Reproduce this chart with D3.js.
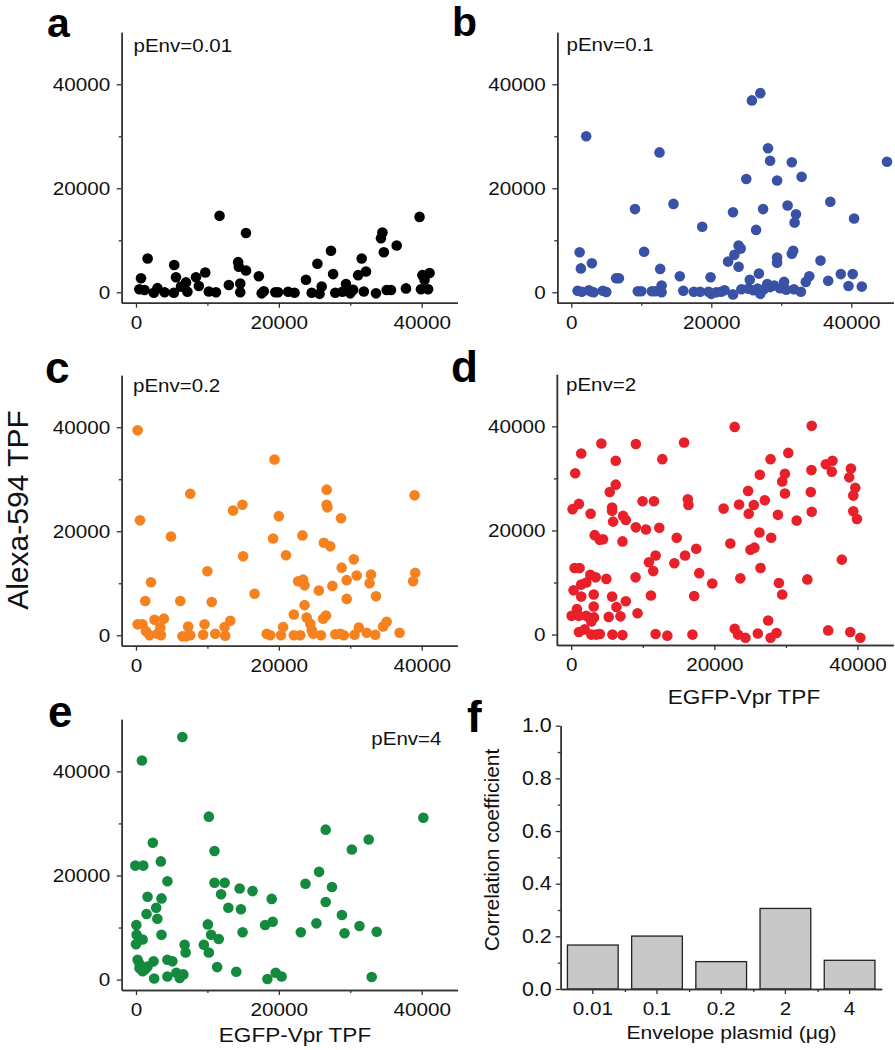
<!DOCTYPE html>
<html><head><meta charset="utf-8">
<script src="https://cdn.jsdelivr.net/npm/d3@7"></script>
<style>
body{margin:0;background:#fff;}
svg{display:block;font-family:"Liberation Sans",Arial,Helvetica,sans-serif;}
</style></head>
<body><div id="chart"></div>
<script>
// ---------------- DATA ----------------
const scatterTicks = [0, 20000, 40000];
const scatterMinorTicks = [10000, 30000];
const panelLabels = ["a","b","c","d","e","f"];
const envLabels = ["pEnv=0.01","pEnv=0.1","pEnv=0.2","pEnv=2","pEnv=4"];
const dotColors = ["#000000","#3a52a5","#f5821f","#e8202a","#138a3e"];

const dataA = [[700,2700],[1630,6500],[470,600],[1200,450],[2500,-100],[3000,800],[4000,0],[5300,-100],[5350,5250],[5600,2900],[6300,1100],[7000,1900],[7200,100],[8400,2900],[8800,1200],[9700,3800],[10200,150],[11200,0],[11700,14700],[13000,1400],[14300,5800],[14400,4900],[14600,1700],[14600,0],[15400,4200],[15400,11400],[17200,3100],[17900,200],[17600,-200],[19500,0],[19900,0],[21300,100],[22200,-100],[23800,2400],[24600,-100],[25400,5500],[25700,-300],[26000,1100],[27300,8000],[27600,3500],[27900,-100],[28900,100],[29400,1600],[30000,-200],[30400,500],[31600,6500],[31900,150],[31100,3300],[32200,4000],[33600,-200],[34300,10400],[34500,11500],[34700,7700],[35100,450],[35700,450],[36500,9000],[37800,750],[39700,14500],[39900,600],[40100,3300],[40400,2400],[40900,600],[41100,3700]];

const dataB = [[2130,30000],[1190,7700],[1370,4600],[2940,5600],[900,300],[1500,100],[2500,400],[2900,100],[3200,0],[4500,300],[5000,50],[6400,2700],[6800,2700],[9100,16000],[9500,200],[10000,200],[11500,200],[12000,200],[10400,7800],[12600,26900],[12700,4500],[12900,1300],[12900,0],[14600,17000],[15500,3100],[16000,300],[17500,100],[18400,100],[18700,12600],[19600,100],[19900,2900],[20000,-300],[20700,0],[21400,100],[21900,400],[23100,15400],[22400,5900],[23300,7200],[23900,9000],[24200,8400],[23900,4900],[23100,-400],[24300,600],[25000,21800],[25800,36900],[27000,38300],[26400,12000],[26800,3600],[25500,2400],[25300,700],[26000,400],[26600,700],[27000,-300],[27500,600],[28100,27700],[28400,25300],[27400,16000],[28000,1600],[28400,1000],[29000,1300],[29400,21500],[29400,6700],[29400,5700],[29800,800],[30400,2000],[30900,16700],[30700,500],[31500,25000],[31500,7400],[31700,8000],[31900,13400],[32100,15000],[31800,600],[32900,22200],[32800,100],[33500,2000],[34000,3100],[35600,6100],[36700,2200],[37000,17400],[38500,3500],[39600,1200],[40200,3500],[40400,14200],[41500,1100],[45100,25100]];

const dataC = [[230,39400],[560,22100],[4900,19000],[2100,10200],[1300,6600],[230,2100],[900,2100],[2600,3000],[3900,3200],[1400,800],[1900,0],[3000,300],[3500,0],[3400,1500],[6200,6600],[7600,27200],[7300,1700],[6500,-200],[7000,-200],[7600,0],[9600,2100],[9400,100],[10000,12300],[10600,6400],[11100,300],[12400,1600],[13200,2800],[12500,-100],[13600,24000],[14900,25100],[15000,15200],[16600,8000],[18300,300],[18800,0],[20300,0],[19400,33800],[19200,18600],[20000,22900],[20600,1600],[21000,15400],[22100,4000],[22100,0],[23000,0],[22700,10400],[23300,19200],[23400,10700],[23600,9600],[23600,5800],[23900,3400],[24400,2200],[24600,1000],[24800,300],[25600,8600],[26200,3200],[26600,3800],[25900,0],[26700,28000],[26700,25100],[26800,24600],[26300,17800],[27200,17100],[27500,9500],[27900,200],[28600,300],[29100,0],[28700,22500],[28800,13000],[29500,10600],[29500,7000],[30500,14600],[30900,11500],[30600,100],[31200,1500],[32300,500],[32900,11700],[32700,10000],[33600,7500],[33500,100],[34600,1700],[35100,2600],[36900,500],[39000,26900],[39100,12000],[38800,10400]];

const dataD = [[22840,39900],[33600,40100],[4210,36700],[9030,36600],[15770,36900],[1400,34800],[6220,33400],[12730,33700],[30330,34900],[27850,33700],[560,31000],[190,24100],[1080,25100],[2710,23200],[5380,27400],[6220,28800],[5710,24400],[5710,23800],[5850,21700],[7250,22800],[7630,22000],[7160,17900],[3280,19100],[3980,18200],[4450,18300],[9030,20600],[9970,25600],[11560,25600],[10440,20200],[12310,20500],[14740,18600],[11790,15200],[10860,13900],[11460,12200],[14410,13700],[15910,15200],[16290,26000],[16380,24900],[17460,16500],[17880,11800],[17180,7400],[19700,9800],[8990,11000],[11140,7500],[9270,4100],[7630,6400],[6320,5300],[6880,3500],[5240,3400],[5710,7300],[4910,10700],[3140,7700],[3140,5400],[2670,11500],[3420,11000],[2110,10000],[1400,9600],[470,12800],[1170,12800],[330,8500],[1400,7300],[800,4900],[50,3600],[1080,3600],[2110,3600],[3180,3300],[2810,2500],[1080,500],[1870,1000],[2810,0],[3500,0],[4000,100],[5760,0],[7160,-100],[11790,100],[13430,-200],[16940,0],[21290,24200],[22230,17500],[23450,25000],[24710,27600],[24800,23200],[25510,24900],[26350,30700],[27050,25800],[26300,19600],[25040,16300],[25600,16700],[27940,18600],[26440,12800],[23630,10800],[28880,23000],[29860,30900],[29480,29400],[29860,27100],[31500,21900],[29020,9900],[29480,7700],[32990,10600],[27520,2700],[33560,31600],[33470,27400],[33600,23600],[35570,32700],[36500,33400],[36410,31300],[39080,31900],[38840,30200],[39690,28200],[39410,26700],[39410,23700],[39920,22200],[37810,14400],[22840,1100],[23310,0],[24340,-600],[26070,200],[27850,-600],[28690,300],[35900,800],[38980,500],[40390,-600]];

const dataE = [[6490,46600],[830,42100],[10200,31300],[40230,31100],[26560,28800],[32580,26900],[30220,25000],[10990,24700],[2360,26300],[3480,22700],[-90,21900],[1020,21900],[4400,18900],[25630,20700],[23730,18400],[27440,17800],[10990,18600],[12420,18600],[14510,17500],[16320,17000],[11910,16400],[19000,15500],[26560,14900],[1620,15900],[3570,15600],[2830,13800],[1480,12600],[2990,11700],[12930,13800],[14690,13500],[28830,12400],[50,10500],[10060,10600],[18080,10500],[19140,11100],[25260,10800],[31290,10300],[23080,9100],[29200,8900],[33700,9200],[14920,9100],[3570,8600],[90,8600],[460,7800],[930,7700],[0,6800],[10520,8600],[11590,7800],[9500,6700],[6810,6700],[6950,5200],[10200,5200],[230,3800],[500,3000],[2460,3500],[1620,2500],[930,1600],[1300,2000],[500,2200],[4400,3800],[5100,3500],[11360,2400],[14040,1500],[2550,200],[4400,600],[5650,1300],[6120,300],[6630,1000],[18400,100],[19560,1300],[20390,600],[33000,500]];

const scatterSets = [dataA, dataB, dataC, dataD, dataE];

const barCategories = ["0.01","0.1","0.2","2","4"];
const barValues = [0.167, 0.201, 0.104, 0.306, 0.109];
const barTicks = [0, 0.2, 0.4, 0.6, 0.8, 1.0];
const barMinorTicks = [0.1, 0.3, 0.5, 0.7, 0.9];

// ---------------- LAYOUT ----------------
const W = 895, H = 1050;
const svg = d3.select("#chart").append("svg").attr("width", W).attr("height", H);
const axisColor = "#333";
const STRETCH = 1.1;

// horizontal stretch of a text around its anchor x (the source figure's lettering is widened)
function stretch(sel, k) {
  sel.each(function () {
    const t = d3.select(this);
    const x = +(t.attr("x") || 0);
    t.attr("transform", `translate(${x * (1 - k)},0) scale(${k},1)`);
  });
}

const frames = [
  {left:121.7, top:32.3,  w:335.7, h:270.4, xMax:45000, env:{x:133.5, y:52, anchor:"start"}, letter:{x:47, y:37}},
  {left:557.3, top:32.3,  w:336.0, h:270.4, xMax:46000, env:{x:566.5, y:51, anchor:"start"}, letter:{x:452, y:36}},
  {left:121.7, top:375.2, w:335.7, h:270.5, xMax:45000, env:{x:133, y:392, anchor:"start"}, letter:{x:45, y:383}},
  {left:556.9, top:374.3, w:336.4, h:270.7, xMax:45000, env:{x:566, y:391, anchor:"start"}, letter:{x:451, y:382}},
  {left:121.7, top:719.3, w:335.7, h:270.7, xMax:45000, env:{x:441.5, y:745, anchor:"end"}, letter:{x:48, y:727}}
];

function styleAxis(g, fs){
  g.select(".domain").attr("stroke", axisColor).attr("stroke-width", 1.5);
  g.selectAll(".tick line").attr("stroke", axisColor).attr("stroke-width", 1.3);
  const tx = g.selectAll(".tick text").attr("fill", "#111").style("font-size", (fs || 18.8) + "px")
    .style("font-family", '"Liberation Sans",Arial,sans-serif');
  stretch(tx, STRETCH);
}

frames.forEach((f, i) => {
  const x = d3.scaleLinear().domain([-2000, f.xMax]).range([f.left, f.left + f.w]);
  const y = d3.scaleLinear().domain([-2000, 50000]).range([f.top + f.h, f.top]);
  const g = svg.append("g");

  g.append("g").attr("transform", `translate(0,${f.top + f.h})`)
    .call(d3.axisBottom(x).tickValues(scatterMinorTicks).tickSize(3).tickFormat("").tickSizeOuter(0))
    .call(styleAxis);
  g.append("g").attr("transform", `translate(${f.left},0)`)
    .call(d3.axisLeft(y).tickValues(scatterMinorTicks).tickSize(3).tickFormat("").tickSizeOuter(0))
    .call(styleAxis);
  g.append("g").attr("transform", `translate(0,${f.top + f.h})`)
    .call(d3.axisBottom(x).tickValues(scatterTicks).tickSize(5).tickPadding(7.5).tickFormat(d3.format("d")).tickSizeOuter(0))
    .call(styleAxis);
  g.append("g").attr("transform", `translate(${f.left},0)`)
    .call(d3.axisLeft(y).tickValues(scatterTicks).tickSize(5).tickPadding(6.5).tickFormat(d3.format("d")).tickSizeOuter(0))
    .call(styleAxis);

  g.append("g").selectAll("circle").data(scatterSets[i]).join("circle")
    .attr("cx", d => x(d[0])).attr("cy", d => y(d[1])).attr("r", 5.3)
    .attr("fill", dotColors[i]);

  g.append("text").attr("x", f.env.x).attr("y", f.env.y).attr("text-anchor", f.env.anchor)
    .style("font-size", "18px").attr("fill", "#111").text(envLabels[i])
    .call(s => stretch(s, 1.14));

  svg.append("text").attr("x", f.letter.x).attr("y", f.letter.y)
    .style("font-size", i < 2 ? "41px" : "44px").style("font-weight", "bold").attr("fill", "#000")
    .text(panelLabels[i]);
});

// shared axis titles
svg.append("text").attr("transform", "translate(27.5,510) rotate(-90)").attr("text-anchor", "middle")
  .style("font-size", "30px").attr("fill", "#111").text("Alexa-594 TPF");
svg.append("text").attr("x", 744).attr("y", 704).attr("text-anchor", "middle")
  .style("font-size", "20.5px").attr("fill", "#111").text("EGFP-Vpr TPF")
  .call(s => stretch(s, 1.1));
svg.append("text").attr("x", 295).attr("y", 1042).attr("text-anchor", "middle")
  .style("font-size", "20.5px").attr("fill", "#111").text("EGFP-Vpr TPF")
  .call(s => stretch(s, 1.1));

// ---------------- BAR PANEL f ----------------
const fb = {left:560.7, top:725.7, w:321, h:263.3};
const xb = d3.scaleBand().domain(barCategories).range([fb.left, fb.left + fb.w]).paddingInner(0.21).paddingOuter(0.105);
const yb = d3.scaleLinear().domain([0, 1]).range([fb.top + fb.h, fb.top]);
const gf = svg.append("g");

gf.append("g").selectAll("rect").data(barValues).join("rect")
  .attr("x", (d, i) => xb(barCategories[i])).attr("width", xb.bandwidth())
  .attr("y", d => yb(d)).attr("height", d => yb(0) - yb(d))
  .attr("fill", "#c8c8c8").attr("stroke", "#222").attr("stroke-width", 1.3);

const boundaries = barCategories.slice(1).map(c => xb(c) - xb.step() * xb.paddingInner() / 2);
const xMinor = d3.scaleLinear().domain([fb.left, fb.left + fb.w]).range([fb.left, fb.left + fb.w]);
gf.append("g").attr("transform", `translate(0,${fb.top + fb.h})`)
  .call(d3.axisBottom(xMinor).tickValues(boundaries).tickSize(3).tickFormat("").tickSizeOuter(0))
  .call(styleAxis);
gf.append("g").attr("transform", `translate(0,${fb.top + fb.h})`)
  .call(d3.axisBottom(xb).tickSize(5).tickPadding(8).tickSizeOuter(0))
  .call(g => styleAxis(g, 18.8));
gf.append("g").attr("transform", `translate(${fb.left},0)`)
  .call(d3.axisLeft(yb).tickValues(barMinorTicks).tickSize(3).tickFormat("").tickSizeOuter(0))
  .call(styleAxis);
gf.append("g").attr("transform", `translate(${fb.left},0)`)
  .call(d3.axisLeft(yb).tickValues(barTicks).tickSize(5).tickPadding(4).tickFormat(d3.format(".1f")).tickSizeOuter(0))
  .call(g => styleAxis(g, 19.5));

gf.append("text").attr("transform", "translate(499,850) rotate(-90)").attr("text-anchor", "middle")
  .style("font-size", "21px").attr("fill", "#111").text("Correlation coefficient");
gf.append("text").attr("x", 731.5).attr("y", 1039).attr("text-anchor", "middle")
  .style("font-size", "18.5px").attr("fill", "#111").text("Envelope plasmid (\u03bcg)")
  .call(s => stretch(s, 1.14));
svg.append("text").attr("x", 467).attr("y", 732)
  .style("font-size", "44px").style("font-weight", "bold").attr("fill", "#000").text("f");
</script>
</body></html>
